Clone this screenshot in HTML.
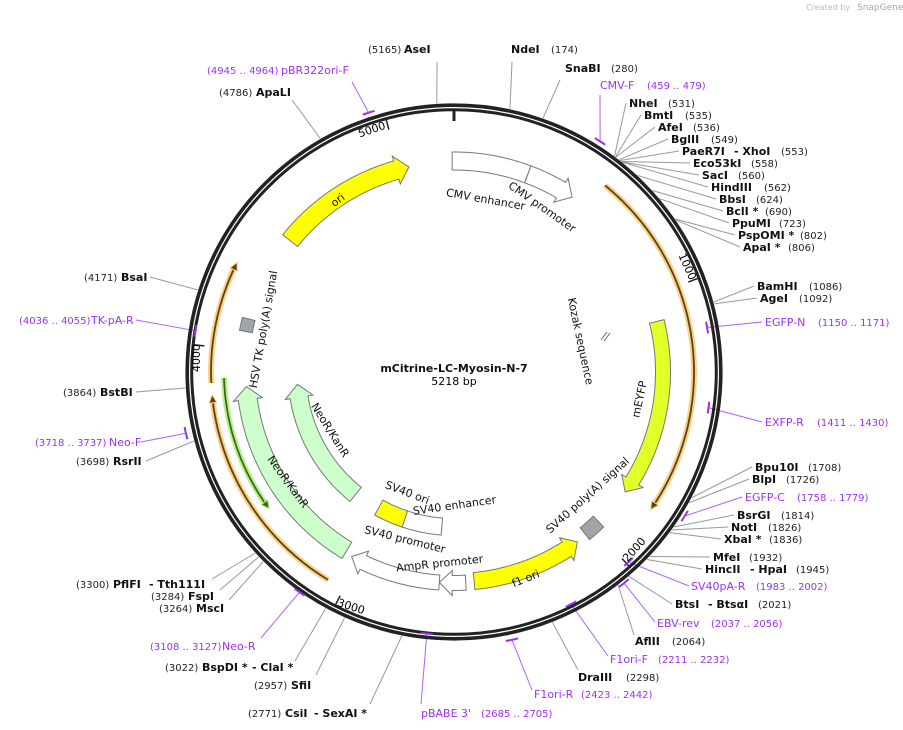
<!DOCTYPE html>
<html><head><meta charset="utf-8"><style>
html,body{margin:0;padding:0;background:#fff;}
svg{display:block;font-family:"DejaVu Sans","Liberation Sans",sans-serif;}
.n{font-size:11px;font-weight:bold;fill:#111;}
.b{font-size:10px;fill:#222;}
.p{font-size:11px;fill:#a030f0;}
.pb{font-size:10px;fill:#a030f0;}
.f{font-size:11px;fill:#111;}
</style></head><body>
<svg id="s" width="903" height="730" viewBox="0 0 903 730" xmlns="http://www.w3.org/2000/svg">
<text x="806" y="10" style="font-size:8px;fill:#bbb">Created by</text>
<text x="857" y="10" style="font-size:9px;fill:#9ab">SnapGene</text>
<g id="lines"></g>
<circle cx="454" cy="372" r="266.8" fill="none" stroke="#222" stroke-width="3.6"/>
<circle cx="454" cy="372" r="262.3" fill="none" stroke="#222" stroke-width="3"/>
<g id="feat"></g>
<text x="454" y="372" text-anchor="middle" class="n">mCitrine-LC-Myosin-N-7</text>
<text x="454" y="385" text-anchor="middle" style="font-size:11px">5218 bp</text>

<text class="f" transform="translate(485,203) rotate(10)" text-anchor="middle">CMV enhancer</text>
<text class="f" transform="translate(540,210) rotate(35)" text-anchor="middle">CMV promoter</text>
<text class="f" transform="translate(340,203) rotate(-38)" text-anchor="middle">ori</text>
<text class="f" transform="translate(267,330) rotate(-80)" text-anchor="middle">HSV TK poly(A) signal</text>
<text class="f" transform="translate(577,342) rotate(78)" text-anchor="middle">Kozak sequence</text>
<text class="f" transform="translate(643,400) rotate(-78)" text-anchor="middle">mEYFP</text>
<text class="f" transform="translate(590,498) rotate(-42)" text-anchor="middle">SV40 poly(A) signal</text>
<text class="f" transform="translate(527,582) rotate(-22)" text-anchor="middle">f1 ori</text>
<text class="f" transform="translate(440,567) rotate(-6)" text-anchor="middle">AmpR promoter</text>
<text class="f" transform="translate(404,543) rotate(14)" text-anchor="middle">SV40 promoter</text>
<text class="f" transform="translate(406,496) rotate(21)" text-anchor="middle">SV40 ori</text>
<text class="f" transform="translate(455,509) rotate(-8)" text-anchor="middle">SV40 enhancer</text>
<text class="f" transform="translate(327,432) rotate(58)" text-anchor="middle">NeoR/KanR</text>
<text class="f" transform="translate(285,484) rotate(54)" text-anchor="middle">NeoR/KanR</text>

<text style="font-size:11px" transform="translate(373,133) rotate(-19)" text-anchor="middle">5000</text>
<text style="font-size:11px" transform="translate(684,268) rotate(66)" text-anchor="middle">1000</text>
<text style="font-size:11px" transform="translate(637,552) rotate(-48)" text-anchor="middle">2000</text>
<text style="font-size:11px" transform="translate(350,610) rotate(18)" text-anchor="middle">3000</text>
<text style="font-size:11px" transform="translate(200,358) rotate(-90)" text-anchor="middle">4000</text>
<g id="lab"></g>
</svg>
<script>
const cx=454,cy=372,L=5218,NS="http://www.w3.org/2000/svg";
function P(a,r){const t=a*Math.PI/180;return [cx+r*Math.sin(t),cy-r*Math.cos(t)];}
function A(bp){return bp/L*360;}
function el(g,tag,at,txt){const e=document.createElementNS(NS,tag);for(const k in at)e.setAttribute(k,at[k]);if(txt!==undefined)e.textContent=txt;document.getElementById(g).appendChild(e);return e;}
function arc(a1,a2,r){const n=Math.max(2,Math.ceil(Math.abs(a2-a1)*2));const o=[];for(let i=0;i<=n;i++){o.push(P(a1+(a2-a1)*i/n,r));}return o;}
function pts(a){return a.map(p=>p[0].toFixed(1)+","+p[1].toFixed(1)).join(" ");}
function feat(a1,a2,r,w,head,fill){const s=Math.sign(a2-a1);const hd=head?(13/r*180/Math.PI)*s:0;const ab=a2-hd;let p=arc(a1,ab,r+w/2);if(head){p.push(P(ab,r+w/2+5));p.push(P(a2,r));p.push(P(ab,r-w/2-5));}p=p.concat(arc(ab,a1,r-w/2));el("feat","polygon",{points:pts(p),fill:fill,stroke:"#777","stroke-width":"1"});}
function orf(a1,a2,r,col,glow){const s=Math.sign(a2-a1);const hd=(8/r*180/Math.PI)*s;const p=arc(a1,a2-hd,r);el("feat","polyline",{points:pts(p),fill:"none",stroke:glow,"stroke-width":"6","stroke-linecap":"butt"});el("feat","polyline",{points:pts(p),fill:"none",stroke:col,"stroke-width":"1.8"});const h=[P(a2-hd,r+4),P(a2,r),P(a2-hd,r-4)];el("feat","polygon",{points:pts(h),fill:col,stroke:glow,"stroke-width":"1"});}
feat(-0.5,20.5,211,18,false,"#fff");
feat(20.5,34,211,18,true,"#fff");
feat(308.7,347.6,210,19,true,"#ffff00");
feat(76,125,209,15,true,"#e2ff2a");
feat(136,141,208,15,false,"#a0a4ab");
feat(174.5,144,210,17,true,"#ffff00");
feat(176.8,184,211,15,true,"#fff");
feat(184,209,211,15,true,"#fff");
feat(184.5,198.5,155,17,false,"#fff");
feat(198.5,209,155,17,false,"#ffff00");
feat(218.8,265.5,157,18,true,"#ccffcc");
feat(211,266,208,19,true,"#ccffcc");
feat(281,284.5,212,13,false,"#a0a4ab");
orf(39,125,240,"#5a4410","#fcd089");
orf(267.4,296.8,243,"#5a4410","#fcd089");
orf(211.2,264.6,243,"#5a4410","#fcd089");
orf(268.5,233.5,230,"#3a6a1a","#b8f090");
el("feat","line",{x1:601,y1:340,x2:607,y2:332,stroke:"#666","stroke-width":"1"});
el("feat","line",{x1:604,y1:341,x2:610,y2:333,stroke:"#666","stroke-width":"1"});
[[0,3],[1000,1.5],[2000,1.5],[3000,1.5],[4000,1.5],[5000,1.5]].forEach(t=>{const a=A(t[0]);const p1=P(a,261),p2=P(a,251);el("feat","line",{x1:p1[0],y1:p1[1],x2:p2[0],y2:p2[1],stroke:"#222","stroke-width":t[1]});});
const E=[
[5165,437,62,53,[[368,"(5165)","b"],[404,"AseI","n"]]],
[174,512,62,53,[[511,"NdeI","n"],[551,"(174)","b"]]],
[280,560,80,72,[[565,"SnaBI","n"],[611,"(280)","b"]]],
[531,626,103,107,[[629,"NheI","n"],[668,"(531)","b"]]],
[535,641,115,119,[[644,"BmtI","n"],[685,"(535)","b"]]],
[536,655,127,131,[[658,"AfeI","n"],[693,"(536)","b"]]],
[549,668,139,143,[[671,"BglII","n"],[711,"(549)","b"]]],
[553,679,151,155,[[682,"PaeR7I","n"],[734,"- XhoI","n"],[781,"(553)","b"]]],
[558,690,163,167,[[693,"Eco53kI","n"],[751,"(558)","b"]]],
[560,699,175,179,[[702,"SacI","n"],[738,"(560)","b"]]],
[562,708,187,191,[[711,"HindIII","n"],[764,"(562)","b"]]],
[624,716,199,203,[[719,"BbsI","n"],[756,"(624)","b"]]],
[690,723,211,215,[[726,"BclI *","n"],[765,"(690)","b"]]],
[723,729,223,227,[[732,"PpuMI","n"],[779,"(723)","b"]]],
[802,735,235,239,[[738,"PspOMI *","n"],[800,"(802)","b"]]],
[806,740,247,251,[[743,"ApaI *","n"],[788,"(806)","b"]]],
[1086,754,286,290,[[757,"BamHI","n"],[809,"(1086)","b"]]],
[1092,757,298,302,[[760,"AgeI","n"],[799,"(1092)","b"]]],
[1708,752,467,471,[[755,"Bpu10I","n"],[808,"(1708)","b"]]],
[1726,749,479,483,[[752,"BlpI","n"],[786,"(1726)","b"]]],
[1814,734,515,519,[[737,"BsrGI","n"],[781,"(1814)","b"]]],
[1826,728,527,531,[[731,"NotI","n"],[768,"(1826)","b"]]],
[1836,721,539,543,[[724,"XbaI *","n"],[769,"(1836)","b"]]],
[1932,710,557,561,[[713,"MfeI","n"],[749,"(1932)","b"]]],
[1945,702,569,573,[[705,"HincII","n"],[750,"- HpaI","n"],[796,"(1945)","b"]]],
[2021,672,604,608,[[675,"BtsI","n"],[708,"- BtsαI","n"],[758,"(2021)","b"]]],
[2064,634,635,645,[[635,"AflII","n"],[672,"(2064)","b"]]],
[2298,578,670,681,[[578,"DraIII","n"],[626,"(2298)","b"]]],
[2771,370,704,717,[[248,"(2771)","b"],[285,"CsiI","n"],[314,"- SexAI *","n"]]],
[2957,316,675,689,[[254,"(2957)","b"],[291,"SfiI","n"]]],
[3022,295,661,671,[[165,"(3022)","b"],[202,"BspDI *","n"],[252,"- ClaI *","n"]]],
[3264,229,600,612,[[159,"(3264)","b"],[196,"MscI","n"]]],
[3284,220,590,600,[[151,"(3284)","b"],[188,"FspI","n"]]],
[3300,212,579,588,[[76,"(3300)","b"],[113,"PflFI","n"],[149,"- Tth111I","n"]]],
[3698,146,461,465,[[76,"(3698)","b"],[113,"RsrII","n"]]],
[3864,136,392,396,[[63,"(3864)","b"],[100,"BstBI","n"]]],
[4171,150,277,281,[[84,"(4171)","b"],[121,"BsaI","n"]]],
[4786,292,100,96,[[219,"(4786)","b"],[256,"ApaLI","n"]]]
];
E.forEach(e=>{const p=P(A(e[0]),269);el("lines","line",{x1:p[0],y1:p[1],x2:e[1],y2:e[2],stroke:"#999","stroke-width":"1"});e[4].forEach(t=>el("lab","text",{x:t[0],y:e[3],"class":t[2]},t[1]));});
const Pr=[
[469,273,600,95,89,[[600,"CMV-F","p"],[647,"(459 .. 479)","pb"]]],
[1160,257,762,322,326,[[765,"EGFP-N","p"],[818,"(1150 .. 1171)","pb"]]],
[1420,257,762,422,426,[[765,"EXFP-R","p"],[817,"(1411 .. 1430)","pb"]]],
[1768,272,742,497,501,[[745,"EGFP-C","p"],[797,"(1758 .. 1779)","pb"]]],
[1992,258,689,586,590,[[691,"SV40pA-R","p"],[756,"(1983 .. 2002)","pb"]]],
[2046,271,655,622,627,[[657,"EBV-rev","p"],[711,"(2037 .. 2056)","pb"]]],
[2221,260,608,656,663,[[610,"F1ori-F","p"],[658,"(2211 .. 2232)","pb"]]],
[2432,274,532,690,698,[[534,"F1ori-R","p"],[581,"(2423 .. 2442)","pb"]]],
[2695,263,421,704,717,[[421,"pBABE 3'","p"],[481,"(2685 .. 2705)","pb"]]],
[3117,269,261,638,650,[[150,"(3108 .. 3127)","pb"],[222,"Neo-R","p"]]],
[3727,275,141,442,446,[[35,"(3718 .. 3737)","pb"],[109,"Neo-F","p"]]],
[4045,262,136,320,324,[[19,"(4036 .. 4055)","pb"],[91,"TK-pA-R","p"]]],
[4954,273,352,82,74,[[207,"(4945 .. 4964)","pb"],[281,"pBR322ori-F","p"]]]
];
Pr.forEach(e=>{const a=A(e[0]);const p=P(a,e[1]);const m=arc(a-1.3,a+1.3,e[1]);el("feat","polyline",{points:pts(m),fill:"none",stroke:"#9b30f0","stroke-width":"2"});el("lines","line",{x1:p[0],y1:p[1],x2:e[2],y2:e[3],stroke:"#b060f8","stroke-width":"1"});e[5].forEach(t=>el("lab","text",{x:t[0],y:e[4],"class":t[2]},t[1]));});
</script>
</body></html>
